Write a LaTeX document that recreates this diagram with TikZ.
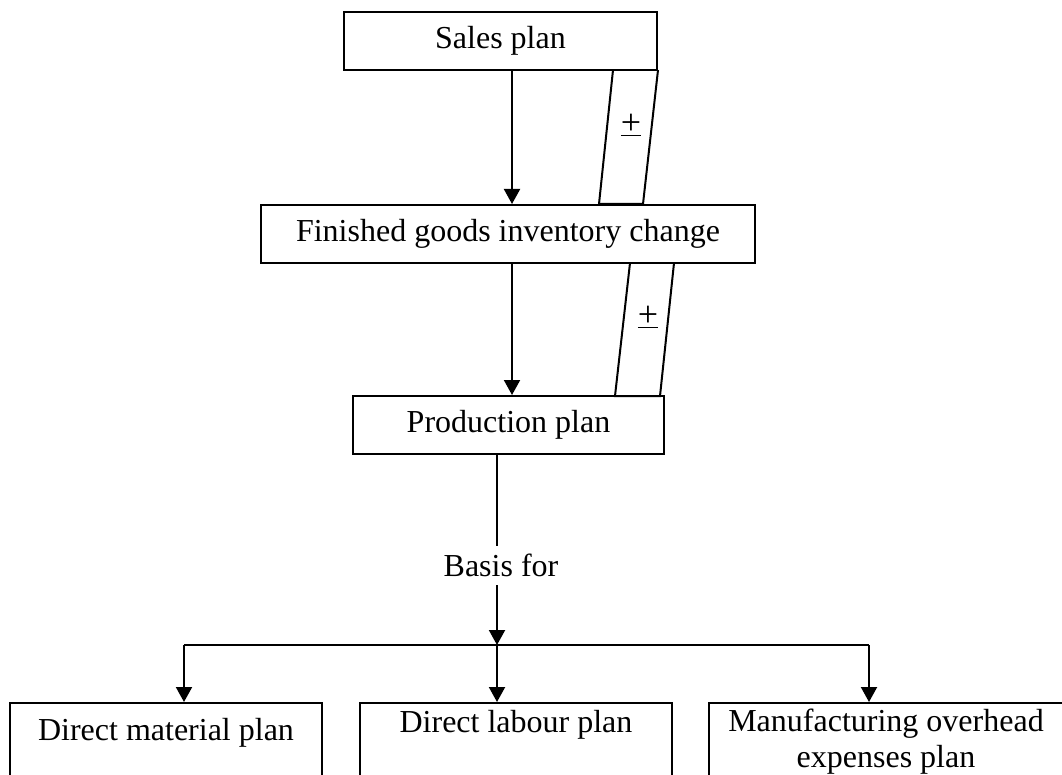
\documentclass[tikz,border=0pt]{standalone}
\usepackage{fontspec}
\setmainfont{Liberation Serif}
\usetikzlibrary{arrows.meta}
\begin{document}
\begin{tikzpicture}[x=1pt,y=-1pt,
  every node/.style={font=\fontsize{32}{36}\selectfont},
  box/.style={draw, line width=2pt, inner sep=0pt},
  bbox/.style={draw, line width=2pt, inner sep=0pt, minimum width=312pt, minimum height=120pt, anchor=north},
  ln/.style={line width=2pt},
  arr/.style={line width=2pt, -{Triangle[width=16pt,length=15pt]}},
  para/.style={line width=2pt},
  pm/.style={inner sep=0pt, font=\fontsize{36}{40}\selectfont}]
\clip (0,0) rectangle (1062,775);
\fill[white] (0,0) rectangle (1062,775);
% boxes
\node[box, minimum width=313pt, minimum height=57.5pt] (sales) at (500.5,41.25) {Sales plan};
\node[box, minimum width=494pt, minimum height=58pt] (fin) at (508,234) {Finished goods inventory change};
\node[box, minimum width=311pt, minimum height=58pt] (prod) at (508.5,425) {Production plan};
\node (basis) at (501,565) {Basis for};
\node[bbox] (dm) at (166,702) {};
\node[bbox] (dl) at (516,702) {};
\node[bbox, minimum width=354pt] (mo) at (886,702) {};
\node (dmt) at (166,733) {Direct material plan};
\node (dlt) at (516,725) {Direct labour plan};
\node[align=center] (mot) at (886,742) {Manufacturing overhead\\expenses plan};
% coordinates
\coordinate (xa) at (512,0);
\coordinate (xb) at (497,0);
\coordinate (xl) at (184,0);
\coordinate (xr) at (869,0);
\coordinate (split) at (497,645);
\coordinate (prodend) at (497,546);
\coordinate (basistop) at (497,585);
% vertical arrows
\draw[arr] (sales.south -| xa) -- (fin.north -| xa);
\draw[arr] (fin.south -| xa) -- (prod.north -| xa);
% parallelograms
\draw[para] (613,70) -- (599,204) -- (643,204) -- (658,70);
\node[pm] (pm1) at (631,125) {\underline{+}};
\draw[para] (630,263) -- (615,396) -- (660,396) -- (674,263);
\node[pm] (pm2) at (648,317) {\underline{+}};
% basis
\draw[ln] (prod.south -| xb) -- (prodend);
\draw[arr] (basistop) -- (split);
\draw[ln] (split -| xl) -- (split -| xr);
\draw[arr] (split -| xl) -- (dm.north -| xl);
\draw[arr] (split) -- (dl.north -| split);
\draw[arr] (split -| xr) -- (mo.north -| xr);
\end{tikzpicture}
\end{document}
